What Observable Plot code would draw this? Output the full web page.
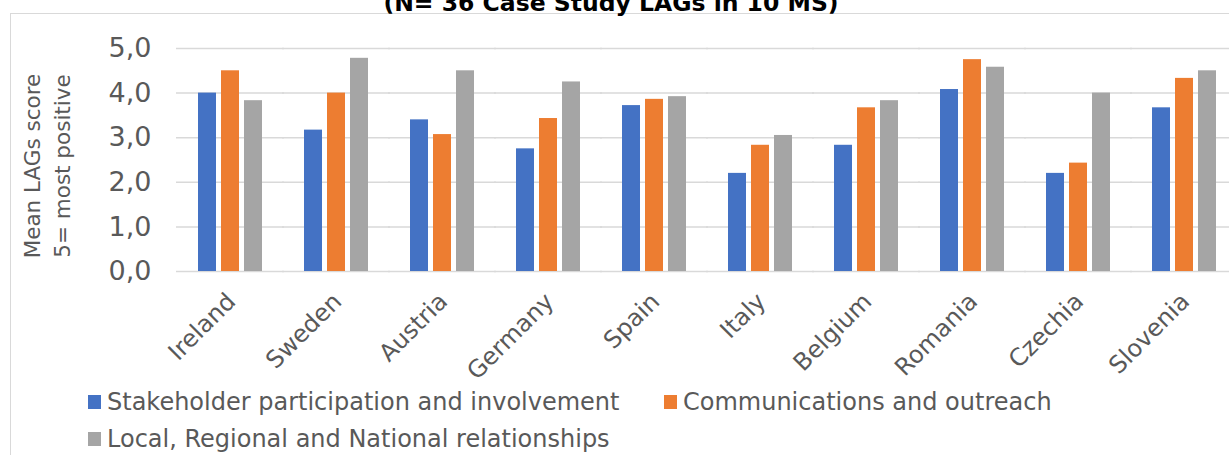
<!DOCTYPE html>
<html><head><meta charset="utf-8">
<script src="https://cdn.jsdelivr.net/npm/d3@7"></script>
<script src="https://cdn.jsdelivr.net/npm/@observablehq/plot@0.6"></script>
<style>
body{margin:0;overflow:hidden;background:#fff;font-family:"DejaVu Sans",Verdana,sans-serif;color:#595959;}
#wrap{position:relative;width:1229px;height:455px;overflow:hidden;}
#frame{position:absolute;left:10px;top:13px;width:1300px;height:500px;border:1px solid #d9d9d9;}
#title{position:absolute;left:0;top:-9px;width:1222px;text-align:center;font-weight:bold;font-size:23.5px;line-height:24px;color:#000;}
#chart{position:absolute;left:0;top:0;}
#chart svg{max-width:none !important;}
#ylabel{position:absolute;left:48px;top:166px;width:260px;text-align:center;font-size:21.5px;line-height:30px;transform:translate(-50%,-50%) rotate(-90deg);white-space:nowrap;}
.leg{position:absolute;font-size:24px;line-height:26px;white-space:nowrap;}
.leg span.sw{display:inline-block;width:13px;height:14px;margin-right:6px;vertical-align:1px;}
</style></head>
<body><div id="wrap">
<div id="frame"></div>
<div id="title">(N= 36 Case Study LAGs in 10 MS)</div>
<div id="chart"></div>
<div id="ylabel">Mean LAGs score<br>5= most positive</div>
<div id="legend"></div>
</div>
<script>
const countries = ["Ireland","Sweden","Austria","Germany","Spain","Italy","Belgium","Romania","Czechia","Slovenia"];
const seriesNames = ["Stakeholder participation and involvement","Communications and outreach","Local, Regional and National relationships"];
const stakeholder = [4.0, 3.17, 3.4, 2.75, 3.72, 2.2, 2.83, 4.08, 2.2, 3.67];
const communications = [4.5, 4.0, 3.07, 3.43, 3.86, 2.83, 3.67, 4.75, 2.43, 4.33];
const relationships = [3.83, 4.78, 4.5, 4.25, 3.92, 3.05, 3.83, 4.58, 4.0, 4.5];
const yTicks = [0, 1, 2, 3, 4, 5];
const colors = ["#4472C4", "#ED7D31", "#A5A5A5"];

const seriesValues = [stakeholder, communications, relationships];
const data = countries.flatMap((c, i) => seriesNames.map((s, k) => ({country: c, series: s, value: seriesValues[k][i]})));

const chart = Plot.plot({
  width: 1240, height: 370,
  marginLeft: 174, marginRight: 0, marginTop: 48, marginBottom: 99,
  style: {fontFamily: "DejaVu Sans", fontSize: "24px", color: "#595959", background: "transparent", overflow: "visible"},
  fx: {domain: countries, paddingInner: 0.38, paddingOuter: 0.19, label: null},
  x: {domain: seriesNames, paddingInner: 0.2, paddingOuter: 0, axis: null},
  y: {domain: [0, 5]},
  color: {domain: seriesNames, range: colors},
  marks: [
    Plot.ruleY(yTicks, {stroke: "#d9d9d9", strokeWidth: 1.5, insetLeft: -21, insetRight: -21}),
    Plot.barY(data, {fx: "country", x: "series", y: "value", fill: "series"}),
    Plot.axisY({ticks: yTicks, tickSize: 0, tickPadding: 46, fontSize: 27, tickFormat: d => d.toFixed(1).replace(".", ","), label: null}),
    Plot.axisFx({anchor: "bottom", tickRotate: -45, tickSize: 0, tickPadding: 26, dx: 1, fontSize: 24, label: null})
  ]
});
document.getElementById("chart").appendChild(chart);

const legend = document.getElementById("legend");
const legPos = [[88, 389], [664, 389], [88, 426]];
seriesNames.forEach((s, k) => {
  const d = document.createElement("div");
  d.className = "leg";
  d.style.left = legPos[k][0] + "px";
  d.style.top = legPos[k][1] + "px";
  d.innerHTML = `<span class="sw" style="background:${colors[k]}"></span>${s}`;
  legend.appendChild(d);
});
</script>
</body></html>
